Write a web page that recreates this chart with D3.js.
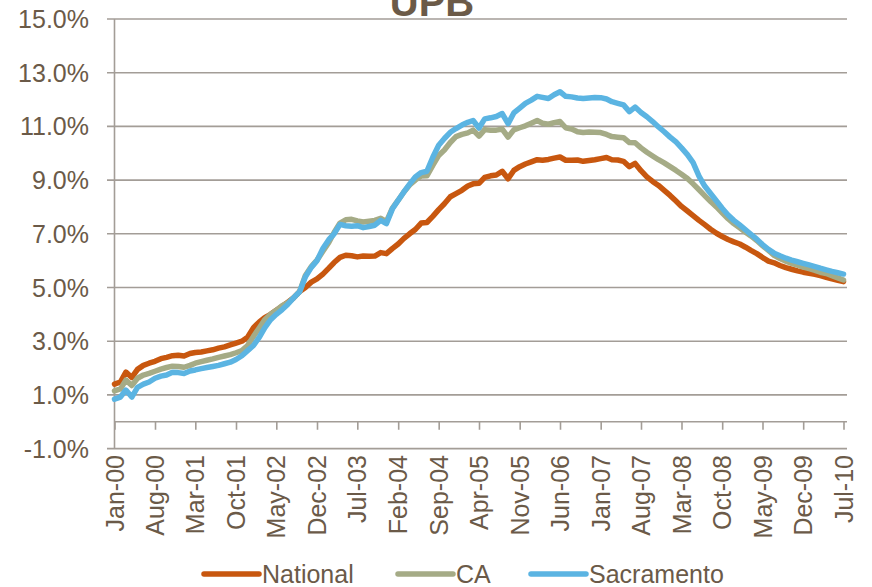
<!DOCTYPE html>
<html>
<head>
<meta charset="utf-8">
<script src="https://cdn.jsdelivr.net/npm/d3@7"></script>
<style>
  body { margin: 0; background: #fff; }
  text { font-family: "Liberation Sans", Arial, sans-serif; fill: #6b5a48; }
</style>
</head>
<body>
<div id="chart"></div>
<script>
// Monthly series, Jan-00 .. Jul-10 (127 months), values in percent
const startMonth = new Date(2000, 0, 1);

const national = [
  1.40, 1.48, 1.85, 1.65, 1.95, 2.10, 2.18, 2.25, 2.35, 2.40, 2.46, 2.48, 2.45, 2.54, 2.58, 2.60,
  2.64, 2.68, 2.74, 2.79, 2.86, 2.93, 3.00, 3.15, 3.50, 3.72, 3.88, 4.00, 4.15, 4.30, 4.45, 4.62,
  4.85, 5.00, 5.20, 5.32, 5.50, 5.72, 5.93, 6.12, 6.20, 6.18, 6.14, 6.17, 6.16, 6.17, 6.30, 6.26,
  6.45, 6.62, 6.82, 7.00, 7.16, 7.40, 7.42, 7.65, 7.90, 8.12, 8.38, 8.50, 8.62, 8.78, 8.86, 8.88,
  9.10, 9.16, 9.19, 9.33, 9.05, 9.36, 9.50, 9.60, 9.68, 9.76, 9.74, 9.77, 9.82, 9.86, 9.74, 9.74,
  9.75, 9.70, 9.73, 9.76, 9.80, 9.84, 9.76, 9.75, 9.70, 9.50, 9.62, 9.35, 9.12, 8.95, 8.80, 8.62,
  8.43, 8.22, 8.02, 7.85, 7.68, 7.50, 7.34, 7.17, 7.02, 6.90, 6.79, 6.70, 6.62, 6.50, 6.38, 6.26,
  6.12, 5.98, 5.92, 5.82, 5.74, 5.68, 5.62, 5.57, 5.53, 5.49, 5.44, 5.38, 5.32, 5.27, 5.22
];

const ca = [
  1.15, 1.22, 1.55, 1.35, 1.62, 1.74, 1.80, 1.88, 1.96, 2.02, 2.07, 2.06, 2.03, 2.10, 2.18, 2.24,
  2.29, 2.34, 2.40, 2.45, 2.50, 2.57, 2.65, 2.84, 3.18, 3.50, 3.80, 4.00, 4.15, 4.32, 4.44, 4.62,
  4.85, 5.45, 5.78, 6.02, 6.35, 6.68, 7.05, 7.40, 7.52, 7.54, 7.48, 7.44, 7.47, 7.50, 7.58, 7.45,
  7.95, 8.25, 8.55, 8.82, 9.00, 9.15, 9.16, 9.55, 9.92, 10.12, 10.40, 10.62, 10.70, 10.76, 10.86, 10.64,
  10.88, 10.86, 10.86, 10.90, 10.60, 10.87, 10.95, 11.02, 11.12, 11.22, 11.12, 11.08, 11.14, 11.18, 10.95, 10.90,
  10.80, 10.77, 10.79, 10.78, 10.77, 10.70, 10.62, 10.60, 10.58, 10.40, 10.39, 10.20, 10.04, 9.90, 9.76, 9.64,
  9.50, 9.36, 9.22, 9.06, 8.86, 8.64, 8.42, 8.20, 8.00, 7.78, 7.56, 7.38, 7.22, 7.06, 6.92, 6.75,
  6.56, 6.38, 6.20, 6.08, 5.98, 5.90, 5.83, 5.76, 5.70, 5.64, 5.57, 5.52, 5.44, 5.36, 5.28
];

const sacramento = [
  0.84, 0.92, 1.18, 0.92, 1.28, 1.40, 1.48, 1.62, 1.70, 1.74, 1.84, 1.83, 1.80, 1.89, 1.93, 1.98,
  2.02, 2.06, 2.10, 2.16, 2.22, 2.32, 2.46, 2.65, 2.84, 3.15, 3.50, 3.80, 4.00, 4.18, 4.38, 4.62,
  4.85, 5.40, 5.75, 6.00, 6.45, 6.78, 7.00, 7.35, 7.30, 7.28, 7.30, 7.23, 7.27, 7.32, 7.50, 7.38,
  7.92, 8.25, 8.55, 8.85, 9.12, 9.28, 9.33, 9.85, 10.30, 10.55, 10.78, 10.92, 11.05, 11.15, 11.22, 10.94,
  11.28, 11.32, 11.37, 11.48, 11.10, 11.50, 11.68, 11.86, 11.98, 12.12, 12.08, 12.04, 12.18, 12.29, 12.12, 12.10,
  12.06, 12.04, 12.06, 12.08, 12.07, 12.02, 11.92, 11.86, 11.80, 11.55, 11.72, 11.52, 11.36, 11.18, 10.98, 10.80,
  10.60, 10.42, 10.20, 9.95, 9.65, 9.15, 8.78, 8.50, 8.22, 7.95, 7.70, 7.50, 7.33, 7.15, 6.98, 6.80,
  6.60, 6.42, 6.28, 6.18, 6.09, 6.02, 5.96, 5.90, 5.84, 5.78, 5.72, 5.66, 5.60, 5.55, 5.50
];

const tickLabels = ["Jan-00", "Aug-00", "Mar-01", "Oct-01", "May-02", "Dec-02", "Jul-03", "Feb-04",
  "Sep-04", "Apr-05", "Nov-05", "Jun-06", "Jan-07", "Aug-07", "Mar-08", "Oct-08", "May-09",
  "Dec-09", "Jul-10"];
const yTicks = [-1, 1, 3, 5, 7, 9, 11, 13, 15];

const seriesNames = ["National", "CA", "Sacramento"];
const seriesColors = ["#c8570f", "#a5ab86", "#5bb4e2"];
const seriesData = [national, ca, sacramento];

const width = 872, height = 587;
const svg = d3.select("#chart").append("svg")
    .attr("width", width)
    .attr("height", height);

const parseLabel = d3.timeParse("%b-%y");
const months = d3.range(national.length).map(i => d3.timeMonth.offset(startMonth, i));

const x = d3.scaleTime()
    .domain([months[0], months[months.length - 1]])
    .range([114.5, 843.5]);

const y = d3.scaleLinear()
    .domain([-1, 15])
    .range([448.6, 19]);

// gridlines
svg.append("g")
  .selectAll("line")
  .data(yTicks)
  .join("line")
    .attr("x1", 107).attr("x2", 847)
    .attr("y1", d => y(d)).attr("y2", d => y(d))
    .attr("stroke", "#a39d97")
    .attr("stroke-width", 1.6);

// y axis line
svg.append("line")
    .attr("x1", 114.5).attr("x2", 114.5)
    .attr("y1", y(15)).attr("y2", y(-1))
    .attr("stroke", "#a39d97")
    .attr("stroke-width", 1.6);

// x axis at 0% with ticks hanging down
const xAxis = svg.append("g")
    .attr("transform", "translate(0," + y(0) + ")")
    .call(d3.axisBottom(x)
      .tickValues(tickLabels.map(parseLabel))
      .tickSize(8)
      .tickFormat(""));
xAxis.select(".domain").attr("d", "M114.5,0H847").attr("stroke", "#a39d97").attr("stroke-width", 1.6);
xAxis.selectAll(".tick line").attr("stroke", "#a39d97").attr("stroke-width", 1.6);

// y labels (plain hyphen for the negative value)
svg.append("g")
  .selectAll("text")
  .data(yTicks)
  .join("text")
    .attr("x", 89)
    .attr("y", d => y(d))
    .attr("dy", "0.36em")
    .attr("text-anchor", "end")
    .style("font-size", "25px")
    .text(d => (d < 0 ? "-" : "") + Math.abs(d).toFixed(1) + "%");

// x labels, rotated
svg.append("g")
  .selectAll("text")
  .data(tickLabels)
  .join("text")
    .attr("transform", d => "translate(" + x(parseLabel(d)) + ",455) rotate(-90)")
    .attr("dy", "0.36em")
    .attr("text-anchor", "end")
    .style("font-size", "25px")
    .text(d => d);

// lines
const line = d3.line()
    .x((d, i) => x(months[i]))
    .y(d => y(d));

svg.append("g")
  .selectAll("path")
  .data(seriesData)
  .join("path")
    .attr("d", d => line(d))
    .attr("fill", "none")
    .attr("stroke", (d, i) => seriesColors[i])
    .attr("stroke-width", 5.5)
    .attr("stroke-linejoin", "round")
    .attr("stroke-linecap", "round");

// title (cut off at the top, as in the source)
svg.append("text")
    .attr("x", 432)
    .attr("y", 16)
    .attr("text-anchor", "middle")
    .style("font-size", "40px")
    .style("font-weight", "bold")
    .text("UPB");

// legend
const legendX = [204, 398, 531];
const legend = svg.append("g")
  .selectAll("g")
  .data(seriesNames)
  .join("g")
    .attr("transform", (d, i) => "translate(" + legendX[i] + ",574)");

legend.append("line")
    .attr("x1", 0).attr("x2", 55)
    .attr("stroke", (d, i) => seriesColors[i])
    .attr("stroke-width", 5.5)
    .attr("stroke-linecap", "round");

legend.append("text")
    .attr("x", 58)
    .attr("dy", "0.36em")
    .style("font-size", "25px")
    .text(d => d);
</script>
</body>
</html>
